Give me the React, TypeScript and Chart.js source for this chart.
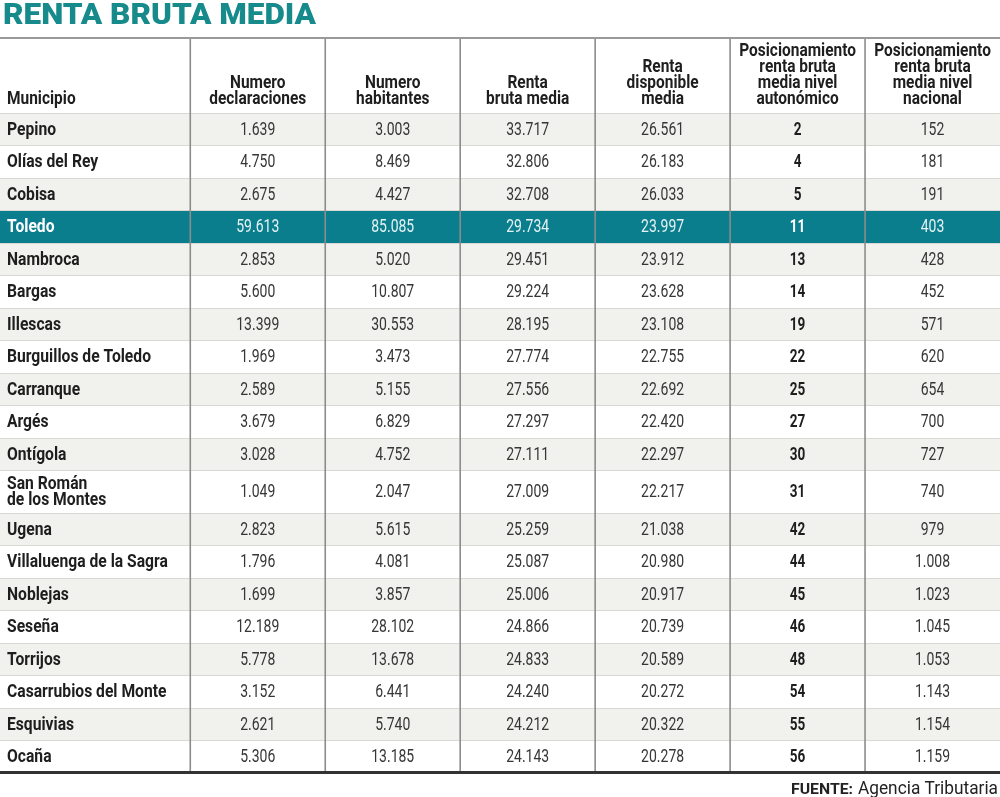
import React, { useEffect, useRef } from "react";
import { Chart, registerables } from "chart.js";

Chart.register(...registerables);

// ---------- DATA ----------
const titleText = "RENTA BRUTA MEDIA";
const sourceLabel = "FUENTE:";
const sourceName = "Agencia Tributaria";

const headers: string[][] = [
  ["Municipio"],
  ["Numero", "declaraciones"],
  ["Numero", "habitantes"],
  ["Renta", "bruta media"],
  ["Renta", "disponible", "media"],
  ["Posicionamiento", "renta bruta", "media nivel", "autonómico"],
  ["Posicionamiento", "renta bruta", "media nivel", "nacional"],
];

const municipios = [
  "Pepino",
  "Olías del Rey",
  "Cobisa",
  "Toledo",
  "Nambroca",
  "Bargas",
  "Illescas",
  "Burguillos de Toledo",
  "Carranque",
  "Argés",
  "Ontígola",
  "San Román\nde los Montes",
  "Ugena",
  "Villaluenga de la Sagra",
  "Noblejas",
  "Seseña",
  "Torrijos",
  "Casarrubios del Monte",
  "Esquivias",
  "Ocaña",
];

const declaraciones = [1639, 4750, 2675, 59613, 2853, 5600, 13399, 1969, 2589, 3679, 3028, 1049, 2823, 1796, 1699, 12189, 5778, 3152, 2621, 5306];
const habitantes = [3003, 8469, 4427, 85085, 5020, 10807, 30553, 3473, 5155, 6829, 4752, 2047, 5615, 4081, 3857, 28102, 13678, 6441, 5740, 13185];
const rentaBruta = [33717, 32806, 32708, 29734, 29451, 29224, 28195, 27774, 27556, 27297, 27111, 27009, 25259, 25087, 25006, 24866, 24833, 24240, 24212, 24143];
const rentaDisponible = [26561, 26183, 26033, 23997, 23912, 23628, 23108, 22755, 22692, 22420, 22297, 22217, 21038, 20980, 20917, 20739, 20589, 20272, 20322, 20278];
const posAutonomico = [2, 4, 5, 11, 13, 14, 19, 22, 25, 27, 30, 31, 42, 44, 45, 46, 48, 54, 55, 56];
const posNacional = [152, 181, 191, 403, 428, 452, 571, 620, 654, 700, 727, 740, 979, 1008, 1023, 1045, 1053, 1143, 1154, 1159];

const highlighted = "Toledo";

// ---------- LAYOUT / STYLE ----------
const COL_UNITS = [1.41, 1, 1, 1, 1, 1, 1];
const HEADER_UNITS = 2.3;
const EXTRA_LINE_UNITS = 0.31;

const TEAL_ROW = "#0b7e8e";
const TEAL_TITLE = "#178a8c";
const GRAY_ROW = "#f1f1ed";
const WHITE_ROW = "#ffffff";
const FONT = "Roboto, 'Noto Sans', sans-serif";

const fmt = (n: number) => String(n).replace(/\B(?=(\d{3})+(?!\d))/g, ".");

const rowUnits = municipios.map((m) => 1 + (m.split("\n").length - 1) * EXTRA_LINE_UNITS);
const totalRowUnits = HEADER_UNITS + rowUnits.reduce((a, b) => a + b, 0);
const totalColUnits = COL_UNITS.reduce((a, b) => a + b, 0);

const columns: ((i: number) => string)[] = [
  (i) => municipios[i],
  (i) => fmt(declaraciones[i]),
  (i) => fmt(habitantes[i]),
  (i) => fmt(rentaBruta[i]),
  (i) => fmt(rentaDisponible[i]),
  (i) => String(posAutonomico[i]),
  (i) => fmt(posNacional[i]),
];

function drawScaled(
  ctx: CanvasRenderingContext2D,
  text: string,
  x: number,
  y: number,
  sx: number,
  align: CanvasTextAlign
) {
  ctx.save();
  ctx.translate(x, y);
  ctx.scale(sx, 1);
  ctx.textAlign = align;
  ctx.fillText(text, 0, 0);
  ctx.restore();
}

function fitScale(ctx: CanvasRenderingContext2D, font: string, ref: string, target: number) {
  ctx.font = font;
  const w = ctx.measureText(ref).width;
  return w > 0 ? target / w : 1;
}

const tablePlugin = {
  id: "tableText",
  afterDatasetsDraw(chart: any) {
    const ctx: CanvasRenderingContext2D = chart.ctx;
    const xs = chart.scales.cols;
    const ys = chart.scales.y;
    const area = chart.chartArea;

    const colEdges: number[] = [0];
    COL_UNITS.forEach((u) => colEdges.push(colEdges[colEdges.length - 1] + u));
    const colPx = colEdges.map((v) => xs.getPixelForValue(v));

    const rowEdges: number[] = [0, HEADER_UNITS];
    rowUnits.forEach((u) => rowEdges.push(rowEdges[rowEdges.length - 1] + u));
    const rowPx = rowEdges.map((v) => ys.getPixelForValue(v));

    const nameFont = `bold 18px ${FONT}`;
    const numFont = `19px ${FONT}`;
    const boldNumFont = `bold 19px ${FONT}`;
    const headFont = `bold 17.5px ${FONT}`;
    const nameS = fitScale(ctx, nameFont, "Burguillos de Toledo", 144);
    const numS = fitScale(ctx, numFont, "85.085", 43);
    const boldNumS = numS * 0.97;
    const headS = fitScale(ctx, headFont, "declaraciones", 97);

    ctx.save();
    ctx.strokeStyle = "#d8d8d4";
    ctx.lineWidth = 1;
    for (let r = 1; r < rowPx.length - 1; r++) {
      const y = Math.round(rowPx[r]) + 0.5;
      ctx.beginPath();
      ctx.moveTo(area.left, y);
      ctx.lineTo(area.right, y);
      ctx.stroke();
    }
    ctx.strokeStyle = "#8c8c8c";
    ctx.lineWidth = 1.6;
    for (let c = 1; c < colPx.length - 1; c++) {
      ctx.beginPath();
      ctx.moveTo(colPx[c], area.top);
      ctx.lineTo(colPx[c], area.bottom);
      ctx.stroke();
    }
    ctx.strokeStyle = "#9a9a9a";
    ctx.lineWidth = 2;
    ctx.beginPath();
    ctx.moveTo(area.left, area.top);
    ctx.lineTo(area.right, area.top);
    ctx.stroke();
    ctx.strokeStyle = "#333333";
    ctx.lineWidth = 3;
    ctx.beginPath();
    ctx.moveTo(area.left, area.bottom - 0.5);
    ctx.lineTo(area.right, area.bottom - 0.5);
    ctx.stroke();

    ctx.textBaseline = "middle";
    ctx.fillStyle = "#1e1e1e";
    ctx.font = headFont;
    headers.forEach((lines, c) => {
      const n = lines.length;
      lines.forEach((line, k) => {
        const y = rowPx[1] - 13 - (n - 1 - k) * 16;
        if (c === 0) drawScaled(ctx, line, colPx[0] + 7, y, headS, "left");
        else drawScaled(ctx, line, (colPx[c] + colPx[c + 1]) / 2, y, headS, "center");
      });
    });

    municipios.forEach((m, i) => {
      const top = rowPx[i + 1];
      const bot = rowPx[i + 2];
      const cy = (top + bot) / 2 + 1;
      const hl = m === highlighted;
      columns.forEach((get, c) => {
        const txt = get(i);
        if (c === 0) {
          ctx.font = nameFont;
          ctx.fillStyle = hl ? "#ffffff" : "#1e1e1e";
          const lines = txt.split("\n");
          lines.forEach((ln, k) => {
            const y = cy + (k - (lines.length - 1) / 2) * 16;
            drawScaled(ctx, ln, colPx[0] + 7, y, nameS, "left");
          });
        } else if (c === 5) {
          ctx.font = boldNumFont;
          ctx.fillStyle = hl ? "#ffffff" : "#1e1e1e";
          drawScaled(ctx, txt, (colPx[c] + colPx[c + 1]) / 2, cy, boldNumS, "center");
        } else {
          ctx.font = numFont;
          ctx.fillStyle = hl ? "#e4f2f3" : "#363636";
          drawScaled(ctx, txt, (colPx[c] + colPx[c + 1]) / 2, cy, numS, "center");
        }
      });
    });

    const titleFont = `900 30px ${FONT}`;
    const titleS = fitScale(ctx, titleFont, titleText, 313);
    ctx.font = titleFont;
    ctx.fillStyle = TEAL_TITLE;
    ctx.textBaseline = "alphabetic";
    drawScaled(ctx, titleText, 3, 23.5, titleS, "left");

    const srcFont = `18px ${FONT}`;
    const srcS = fitScale(ctx, srcFont, sourceName, 140);
    ctx.font = srcFont;
    ctx.fillStyle = "#222222";
    drawScaled(ctx, sourceName, 998, 794, srcS, "right");
    const lblFont = `bold 14px ${FONT}`;
    const lblS = fitScale(ctx, lblFont, sourceLabel, 62);
    ctx.font = lblFont;
    drawScaled(ctx, sourceLabel, 998 - 140 - 5, 794, lblS, "right");
    ctx.restore();
  },
};

export default function App() {
  const ref = useRef<HTMLCanvasElement>(null);
  useEffect(() => {
    document.body.style.margin = "0";
    const canvas = ref.current!;
    const datasets = [
      {
        label: "header",
        data: [HEADER_UNITS],
        backgroundColor: WHITE_ROW,
      },
      ...municipios.map((m, i) => ({
        label: m,
        data: [rowUnits[i]],
        backgroundColor: m === highlighted ? TEAL_ROW : i % 2 === 0 ? GRAY_ROW : WHITE_ROW,
      })),
    ];
    const chart = new Chart(canvas, {
      type: "bar",
      data: { labels: ["tabla"], datasets: datasets as any },
      options: {
        responsive: false,
        animation: false,
        devicePixelRatio: 1,
        layout: { padding: { top: 38, bottom: 24, left: 0, right: 0 } },
        datasets: {
          bar: { barPercentage: 1, categoryPercentage: 1, borderWidth: 0 },
        },
        scales: {
          x: { type: "category", stacked: true, display: false, offset: true },
          cols: {
            type: "linear",
            axis: "x",
            position: "bottom",
            offset: false,
            grace: 0,
            bounds: "data",
            min: 0,
            max: totalColUnits,
            display: false,
          },
          y: { type: "linear", stacked: true, reverse: true, min: 0, max: totalRowUnits, display: false },
        },
        plugins: {
          legend: { display: false },
          tooltip: { enabled: false },
          title: { display: false },
        },
      } as any,
      plugins: [tablePlugin],
    });
    return () => chart.destroy();
  }, []);
  return (
    <canvas
      ref={ref}
      width={1000}
      height={797}
      style={{ display: "block", width: 1000, height: 797 }}
    />
  );
}
